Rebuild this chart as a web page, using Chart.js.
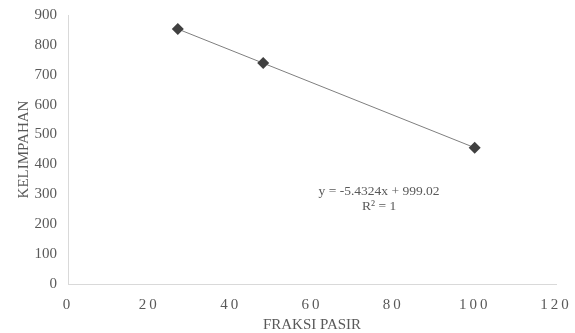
<!DOCTYPE html>
<html>
<head>
<meta charset="utf-8">
<script src="https://cdn.jsdelivr.net/npm/chart.js@4.4.1/dist/chart.umd.min.js"></script>
<style>
  html, body { margin: 0; padding: 0; background: #fff; }
  #wrap { width: 575px; height: 333px; position: relative; }
</style>
</head>
<body>
<div id="wrap"><canvas id="chart"></canvas></div>
<script>
// data
const fraksiPasir = [27, 48, 100];
const kelimpahan = [853, 739, 456];
const xTicks = [0, 20, 40, 60, 80, 100, 120];
const yTicks = [0, 100, 200, 300, 400, 500, 600, 700, 800, 900];
const equationLines = ['y = -5.4324x + 999.02', 'R² = 1'];

const textColor = '#595959';
const axisColor = '#d9d9d9';
const serif = "'Liberation Serif', 'Times New Roman', serif";

// linear trendline (least squares) through the points
function trend(xs, ys) {
    const n = xs.length;
    const mx = xs.reduce((a, b) => a + b, 0) / n;
    const my = ys.reduce((a, b) => a + b, 0) / n;
    let num = 0, den = 0;
    xs.forEach((x, i) => { num += (x - mx) * (ys[i] - my); den += (x - mx) ** 2; });
    const slope = num / den;
    const icpt = my - slope * mx;
    const lo = Math.min(...xs), hi = Math.max(...xs);
    return [{ x: lo, y: slope * lo + icpt }, { x: hi, y: slope * hi + icpt }];
}

const points = fraksiPasir.map((x, i) => ({ x, y: kelimpahan[i] }));

const equationPlugin = {
    id: 'equation',
    afterDatasetsDraw(chart) {
        const { ctx, scales } = chart;
        const cx = scales.x.getPixelForValue(76.5);
        const cy = scales.y.getPixelForValue(311);
        ctx.save();
        ctx.font = '13.5px ' + serif;
        ctx.fillStyle = textColor;
        ctx.textAlign = 'center';
        ctx.textBaseline = 'middle';
        equationLines.forEach((t, i) => ctx.fillText(t, cx, cy + i * 15));
        ctx.restore();
    }
};

// x tick labels in the original are spread out a little
const spacedTicks = {
    id: 'spacedTicks',
    beforeDraw(chart) {
        const s = chart.scales.x;
        if (s._spaced) return;
        const orig = s.drawLabels.bind(s);
        s.drawLabels = area => {
            chart.ctx.save();
            chart.ctx.letterSpacing = '3px';
            orig(area);
            chart.ctx.restore();
        };
        s._spaced = true;
    }
};

new Chart(document.getElementById('chart'), {
    type: 'scatter',
    data: {
        datasets: [
            {
                label: 'Trendline',
                data: trend(fraksiPasir, kelimpahan),
                showLine: true,
                borderColor: '#7f7f7f',
                borderWidth: 1,
                pointRadius: 0,
                order: 2,
            },
            {
                label: 'KELIMPAHAN',
                data: points,
                pointStyle: 'rectRot',
                pointRadius: 6,
                pointBackgroundColor: '#404040',
                pointBorderColor: '#404040',
                pointBorderWidth: 0,
                order: 1,
            },
        ],
    },
    options: {
        responsive: true,
        maintainAspectRatio: false,
        animation: false,
        layout: { padding: { left: 0, top: 15, right: 19, bottom: 0 } },
        plugins: { legend: { display: false }, tooltip: { enabled: false } },
        scales: {
            x: {
                type: 'linear',
                min: 0,
                max: 120,
                afterBuildTicks: s => { s.ticks = xTicks.map(v => ({ value: v })); },
                afterFit: s => { s.height = 49; s.paddingLeft = 0; s.paddingRight = 0; },
                grid: { display: false, drawTicks: false },
                border: { display: true, color: axisColor, width: 1 },
                ticks: { color: textColor, padding: 12, font: { family: serif, size: 15 } },
                title: {
                    display: true,
                    text: 'FRAKSI PASIR',
                    color: textColor,
                    font: { family: serif, size: 15 },
                    padding: { top: 0, bottom: -1 },
                },
            },
            y: {
                min: 0,
                max: 900,
                afterBuildTicks: s => { s.ticks = yTicks.map(v => ({ value: v })); },
                afterFit: s => { s.width = 68; s.paddingTop = 0; s.paddingBottom = 0; },
                grid: { display: false, drawTicks: false },
                border: { display: true, color: axisColor, width: 1 },
                ticks: { color: textColor, padding: 11, font: { family: serif, size: 15 } },
                title: {
                    display: true,
                    text: 'KELIMPAHAN',
                    color: textColor,
                    font: { family: serif, size: 15 },
                    padding: { top: 15, bottom: 0 },
                },
            },
        },
    },
    plugins: [equationPlugin, spacedTicks],
});
</script>
</body>
</html>
